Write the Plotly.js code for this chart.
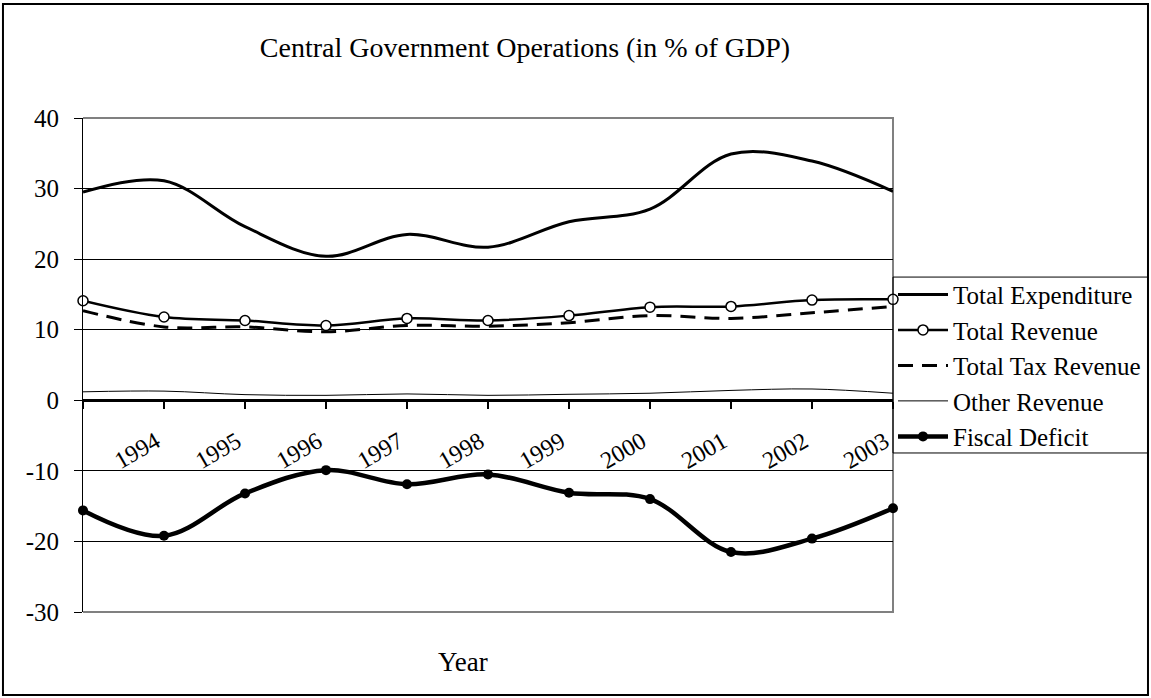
<!DOCTYPE html>
<html>
<head>
<meta charset="utf-8">
<script src="https://cdn.plot.ly/plotly-3.0.1.min.js"></script>
<style>html,body{margin:0;padding:0;background:#fff}#chart{width:1151px;height:698px}</style>
</head>
<body>
<div id="chart"></div>
<script>
const categories = ['1993','1994','1995','1996','1997','1998','1999','2000','2001','2002','2003'];
const tickLabels = ['','1994','1995','1996','1997','1998','1999','2000','2001','2002','2003'];
const yTickVals = [-30, -20, -10, 0, 10, 20, 30, 40];
const yTickText = ['-30', '-20', '-10', '0', '10', '20', '30', '40'];
const totalExpenditure = [29.5, 31.1, 24.6, 20.4, 23.5, 21.7, 25.3, 27.1, 34.9, 33.9, 29.6];
const totalRevenue     = [14.1, 11.8, 11.3, 10.6, 11.6, 11.3, 12.0, 13.2, 13.3, 14.2, 14.3];
const totalTaxRevenue  = [12.7, 10.4, 10.4, 9.7, 10.6, 10.5, 11.0, 12.0, 11.6, 12.4, 13.3];
const otherRevenue     = [1.2, 1.3, 0.8, 0.7, 0.9, 0.7, 0.85, 1.0, 1.4, 1.6, 1.0];
const fiscalDeficit    = [-15.6, -19.2, -13.2, -9.9, -11.9, -10.5, -13.1, -14.0, -21.5, -19.6, -15.3];

const FONT = 'Liberation Serif, Times New Roman, serif';

const traces = [
  {name:'Total Expenditure', x:categories, y:totalExpenditure, mode:'lines',
   line:{color:'#000', width:3, shape:'spline', smoothing:1}},
  {name:'Total Revenue', x:categories, y:totalRevenue, mode:'lines+markers',
   line:{color:'#000', width:2.5, shape:'spline', smoothing:1},
   marker:{symbol:'circle', size:10, color:'#fff', line:{color:'#000', width:1.5}}},
  {name:'Total Tax Revenue', x:categories, y:totalTaxRevenue, mode:'lines',
   line:{color:'#000', width:3, dash:'15px,9px', shape:'spline', smoothing:1}},
  {name:'Other Revenue', x:categories, y:otherRevenue, mode:'lines',
   line:{color:'#000', width:1, shape:'spline', smoothing:1}},
  {name:'Fiscal Deficit', x:categories, y:fiscalDeficit, mode:'lines+markers',
   line:{color:'#000', width:4.5, shape:'spline', smoothing:1},
   marker:{symbol:'circle', size:10, color:'#000'}}
].map(t => Object.assign(t, {type:'scatter', cliponaxis:false}));

const layout = {
  width:1151, height:698,
  margin:{l:83, r:258, t:118, b:86, pad:0, autoexpand:false},
  paper_bgcolor:'#fff', plot_bgcolor:'#fff',
  font:{family:FONT, color:'#000'},
  showlegend:true,
  title:{text:'Central Government Operations (in % of GDP)', font:{family:FONT, size:28, color:'#000'},
         xref:'paper', x:0.5457, xanchor:'center', yref:'container', y:0.933, yanchor:'middle'},
  xaxis:{type:'category', range:[0,10], autorange:false, anchor:'free', position:3/7,
         tickmode:'array', tickvals:categories, ticktext:tickLabels,
         tickangle:-30, tickfont:{family:FONT, size:24, color:'#000'},
         ticks:'outside', ticklen:7, tickwidth:2, tickcolor:'#000',
         ticklabelstandoff:9, ticklabelshift:-8,
         showline:true, linecolor:'#000', linewidth:3, showgrid:false, zeroline:false, fixedrange:true},
  yaxis:{range:[-30,40], autorange:false, tickmode:'array', tickvals:yTickVals, ticktext:yTickText,
         tickfont:{family:FONT, size:25, color:'#000'},
         ticks:'outside', ticklen:8, tickwidth:1, tickcolor:'#000', ticklabelstandoff:10,
         showline:true, linecolor:'#000', linewidth:1,
         showgrid:true, gridcolor:'#000', gridwidth:1, zeroline:false, fixedrange:true},
  legend:{x:1, xanchor:'left', y:0.689, yanchor:'top', bgcolor:'rgba(0,0,0,0)',
          borderwidth:0, font:{family:FONT, size:25, color:'#000'},
          itemwidth:50, tracegroupgap:0},
  annotations:[{text:'Year', xref:'paper', yref:'paper', x:0.469, y:-0.101, xanchor:'center', yanchor:'middle',
                showarrow:false, font:{family:FONT, size:27, color:'#000'}}],
  shapes:[
    {type:'path', xref:'paper', yref:'paper', layer:'below',
     path:'M0,1 L1,1 L1,0 L0,0', line:{color:'#808080', width:2}},
    {type:'rect', xref:'paper', yref:'paper', x0:1, x1:1.3148, y0:0.3219, y1:0.678,
     line:{color:'#000', width:1}, fillcolor:'rgba(0,0,0,0)', layer:'above'},
    {type:'rect', xref:'paper', yref:'paper', x0:-0.0988, x1:1.3148, y0:-0.168, y1:1.2308,
     line:{color:'#000', width:2}, fillcolor:'rgba(0,0,0,0)', layer:'above'}
  ]
};

Plotly.newPlot('chart', traces, layout, {displayModeBar:false, staticPlot:true});
</script>
</body>
</html>
